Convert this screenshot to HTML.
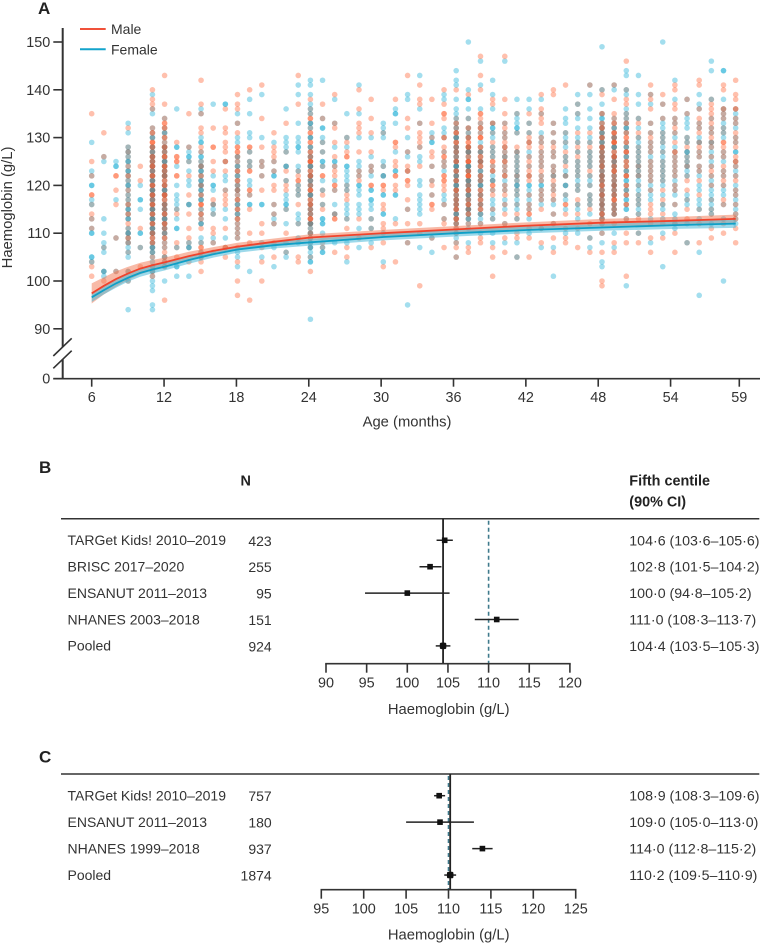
<!DOCTYPE html>
<html lang="en">
<head>
<meta charset="utf-8">
<title>Haemoglobin by age and fifth centile forest plots</title>
<style>
html,body{margin:0;padding:0;background:#fff;}
body{width:762px;height:943px;overflow:hidden;}
svg{display:block;}
text{font-family:"Liberation Sans",sans-serif;font-size:14px;fill:#333;}
.ttl{font-size:14.8px;}
.val{font-size:14.2px;}
.hdr{font-size:14.4px;font-weight:bold;fill:#222;}
.letter{font-size:17px;font-weight:bold;fill:#222;}
.tick{font-size:14.4px;}
</style>
</head>
<body>
<svg id="fig" xmlns="http://www.w3.org/2000/svg" width="762" height="943" viewBox="0 0 762 943">
  <text class="letter" x="38" y="14">A</text>
  <text class="ttl" x="0" y="0" transform="translate(12,207.5) rotate(-90)" text-anchor="middle">Haemoglobin (g/L)</text>
  <text class="ttl" x="407" y="426.5" text-anchor="middle">Age (months)</text>
  <g id="dots"></g>
  <g id="curves"></g>
  <g id="axesA"></g>
  <g>
    <line x1="80" y1="29" x2="105.7" y2="29" stroke="#f0513a" stroke-width="2"/>
    <text x="111" y="34">Male</text>
    <line x1="80" y1="49.3" x2="105.7" y2="49.3" stroke="#13a4cc" stroke-width="2"/>
    <text x="111" y="54.5">Female</text>
  </g>

  <text class="letter" x="39" y="473">B</text>
  <text class="hdr" x="240.5" y="485.7">N</text>
  <text class="hdr" x="629.3" y="485.7">Fifth centile</text>
  <text class="hdr" x="629.3" y="506.7">(90% CI)</text>
  <line x1="61" y1="518.7" x2="759.3" y2="518.7" stroke="#333" stroke-width="1.5"/>
  <g id="forestB"></g>
  <text class="ttl" x="448.7" y="714" text-anchor="middle">Haemoglobin (g/L)</text>

  <text class="letter" x="39" y="762.7">C</text>
  <line x1="61" y1="774" x2="759.3" y2="774" stroke="#333" stroke-width="1.5"/>
  <g id="forestC"></g>
  <text class="ttl" x="448.7" y="939.3" text-anchor="middle">Haemoglobin (g/L)</text>
</svg>
<script>
const months = [6,7,8,9,10,11,12,13,14,15,16,17,18,19,20,21,22,23,24,25,26,27,28,29,30,31,32,33,34,35,36,37,38,39,40,41,42,43,44,45,46,47,48,49,50,51,52,53,54,55,56,57,58,59];
const maleValues = [
[135,125,122,118,118,116,114,113,111,104,103,101],
[131,126,107,102,100],
[122,122,119,116,109,102],
[132,128,126,125,123,122,121,120,118,117,116,115,114,113,111,110,110,109,108,108,106,102,100],
[124,121,111,107,103],
[140,138,137,136,132,130,129,129,128,127,127,126,126,125,125,124,124,123,123,122,122,121,120,120,119,119,118,118,117,117,116,116,115,115,114,113,112,111,110,110,109,108,107,106,105,103,102,101],
[143,137,134,133,133,132,131,128,128,127,126,125,124,124,123,123,122,122,121,120,119,118,118,118,117,116,115,114,113,112,111,110,110,109,108,107,106,105,104,103,96],
[129,126,126,125,125,122,122,115,114,108,107,105],
[135,128,125,122,118,116,114,111,109,108,107,104],
[142,137,135,132,131,128,125,124,123,122,121,120,119,118,117,116,116,115,114,112,111,108,107,107,106,105,104,102],
[132,128,128,125,123,117,116,114,111,110,108,106],
[136,132,131,129,128,127,125,125,123,119,118,117,116,111,107,107,105],
[139,137,136,133,131,128,128,127,126,126,124,123,122,121,120,119,118,117,116,115,114,113,112,111,110,109,107,104,100,97],
[140,128,128,127,125,124,123,123,119,119,118,115,110,108,96],
[141,134,128,125,124,122,119,112,110,107,104,100],
[131,128,127,126,125,123,120,119,116,114,112,108,105],
[133,127,124,123,121,120,119,115,110,106],
[143,137,123,122,121,121,120,119,118,116,112,105,104],
[138,136,135,134,133,132,131,130,129,128,127,126,125,125,124,123,122,121,120,119,118,117,116,115,114,113,112,111,110,109,108,107,105,102],
[137,134,129,127,124,122,122,119,118,116,115,108,107],
[139,133,132,129,126,124,123,122,120,120,119,114,113,113,106],
[130,129,127,126,126,120,119,118,117,113,111,105,107],
[140,136,133,132,131,127,123,122,121,113,109],
[138,134,131,127,124,123,120,120,113,111,107],
[131,124,122,120,120,119,116,115,112,111,108,103],
[138,129,129,128,125,124,122,122,120,119,112,104],
[143,134,132,127,124,123,123,121,121,120,117,115,112,108],
[141,138,137,133,131,130,129,128,124,112,110,99],
[138,133,130,127,126,124,121,120,118,116,116,115,109],
[140,137,135,135,134,130,130,128,127,126,126,125,124,122,122,121,121,120,119,116,113,112,107],
[140,134,133,132,132,131,130,129,128,128,127,126,125,125,124,123,122,122,121,120,119,119,118,117,116,116,115,114,113,112,111,110,108,107,105],
[139,134,132,131,130,130,129,128,128,127,127,126,125,125,124,123,123,122,122,121,121,120,119,118,117,116,115,114,113,112,107,106],
[147,143,140,135,135,134,133,132,132,131,130,130,128,127,127,126,125,125,124,123,122,121,120,119,118,117,117,116,115,114,112,109,108],
[138,137,133,133,131,129,128,127,126,125,125,124,123,123,121,120,120,119,118,115,113,107,105,101],
[147,138,135,133,132,131,130,129,128,128,127,126,125,125,124,123,122,122,120,119,118,116,114,112,109,106],
[135,131,128,127,127,126,125,124,123,122,122,121,120,119,118,116,114,113,110,109,105],
[135,133,131,130,129,129,128,126,125,124,123,122,122,121,118,116,115,114,114,111,109,105],
[139,136,135,134,133,130,129,128,127,126,125,124,123,122,121,119,118,117,115,111,108],
[140,139,133,131,129,128,127,126,124,123,122,121,120,119,118,117,114,112,109,106],
[141,131,129,127,126,125,124,122,122,120,118,116,116,114,111,109,108],
[137,135,131,129,128,127,126,125,124,123,122,120,119,117,116,114,111,107],
[141,131,129,128,127,126,125,124,123,122,120,118,117,116,115,112,109,106],
[140,139,135,133,132,131,130,129,128,128,127,127,126,125,125,124,123,122,122,121,121,120,119,118,118,117,116,115,114,113,112,110,106,100,99],
[141,138,135,134,133,132,131,131,130,129,129,128,127,126,126,125,125,124,124,123,122,121,120,119,118,118,117,116,115,114,112,108,106],
[146,140,138,137,135,134,133,132,131,130,130,129,128,127,127,126,125,124,123,122,122,120,119,118,116,113,110,108,101],
[134,133,131,130,128,127,126,125,124,124,123,122,122,120,118,117,116,114,113,110,108],
[141,139,138,136,133,131,130,129,128,127,125,124,123,122,121,119,116,115,114,112,109,106],
[139,137,134,131,130,129,127,125,124,123,122,121,119,117,116,114,112,109],
[141,140,137,136,134,133,132,131,129,127,127,126,125,124,123,122,120,119,116,112,110,106],
[138,135,130,129,128,127,126,125,124,124,122,121,119,117,115,113,108],
[142,141,136,134,133,132,131,129,128,127,126,124,123,121,118,115,112,108],
[138,137,136,135,134,133,132,131,130,129,128,126,124,123,122,120,117,115,114,111,109],
[141,140,136,136,135,134,132,131,129,129,128,127,126,124,123,122,121,120,117,116,112,110],
[142,139,138,136,136,134,133,131,130,129,128,126,125,125,124,122,121,119,118,116,114,113,111,108]
];
const femaleValues = [
[129,123,122,120,120,117,116,113,111,110,110,105,105,104],
[126,125,113,110,108,107,106,102,102,101],
[125,124,124,117,109,102],
[133,131,128,127,127,125,125,124,123,122,121,120,119,117,116,115,114,113,111,110,109,108,107,106,105,102,100,94],
[120,117,117,115,110,110,107],
[139,136,135,132,131,130,128,127,126,125,124,124,123,122,121,121,120,119,118,118,117,116,115,114,113,113,112,111,110,110,109,108,108,107,107,106,105,104,103,102,102,101,100,99,98,95,94],
[134,132,131,130,128,127,126,126,125,124,123,122,121,120,119,118,117,116,115,115,114,113,112,111,110,109,108,107,105,105,104,103,100],
[136,128,128,124,120,118,117,116,115,113,111,111,107,103,103,101],
[128,127,126,126,125,123,121,120,116,116,108,107,107,101],
[136,135,130,129,129,127,126,125,124,124,123,122,121,120,120,119,118,117,114,113,112,109,108,106,105],
[137,122,120,120,119,116,116,115,114,109,108],
[137,137,125,122,121,119,115,113,109,107],
[135,133,130,129,125,124,123,122,121,120,120,119,118,117,116,115,114,113,112,111,110,109,106,105,103],
[138,135,131,130,127,125,124,121,120,118,116,116,102],
[139,130,125,124,122,116,116,108,105],
[129,125,123,122,122,116,114,113,112,107,103],
[136,130,129,128,127,124,124,121,118,117,116,116,115,112,108,106,105],
[141,139,133,130,129,128,128,127,124,123,120,119,118,114,113,112,109,108],
[142,141,139,137,136,135,133,132,130,128,127,126,125,124,123,122,122,121,120,119,118,117,116,115,114,113,112,112,111,110,109,108,107,107,106,105,104,104,92],
[142,134,132,132,130,129,127,125,125,124,121,119,116,113,113,112,112,110,107,106,106],
[138,133,128,125,125,124,121,119,116,114,114,108],
[135,130,128,124,124,123,122,121,120,119,116,115,114,113,108,104],
[141,135,130,125,124,123,122,120,120,119,118,116,115,114,111,107],
[130,126,124,123,122,119,119,117,117,116,115,113,111,108],
[133,132,131,130,125,124,122,122,118,118,114,114,110,104],
[136,135,135,133,127,123,123,118,118,113],
[139,138,130,127,126,123,115,108,95],
[143,136,133,128,126,125,121,120,118,117,116,115,114,107],
[131,130,129,129,124,121,118,109,106],
[139,138,132,131,130,127,125,124,123,118,117,116,113],
[144,142,141,138,136,135,134,133,131,130,129,128,127,126,125,124,124,123,122,121,120,119,118,117,116,115,114,113,112,111,110,109,108,105],
[150,140,138,138,136,134,132,130,128,127,127,125,124,124,123,122,121,120,120,119,118,118,117,116,115,115,114,114,113,112,111,108],
[146,141,136,133,132,131,128,127,126,125,125,124,123,122,122,121,120,120,119,118,117,116,115,114,113,112,110],
[142,139,136,133,132,132,131,130,128,127,126,124,123,122,121,121,119,117,116,115,114,113,110,108],
[146,133,131,130,128,127,126,126,125,124,123,122,121,120,119,117,116,115,112,108],
[138,135,134,133,132,132,131,127,126,125,124,123,122,121,120,120,119,118,117,116,115,113,108,105],
[138,136,133,131,129,127,126,124,122,120,120,119,118,117,116,115,113,110],
[138,135,131,130,129,127,126,125,124,122,121,120,120,119,118,117,116,111,107],
[133,131,129,127,126,124,123,122,122,120,119,117,116,114,112,107,101],
[136,134,133,131,130,129,128,126,125,123,122,120,120,118,117,115,110],
[139,137,135,134,132,130,129,127,125,124,123,122,121,120,119,116,115,113,110],
[141,139,136,134,132,130,129,127,126,125,124,122,121,120,118,117,116,114,109,107],
[149,140,137,135,134,133,132,131,130,129,128,127,126,126,125,124,124,123,122,122,121,120,119,118,117,116,115,114,113,112,110,108,104,103],
[141,140,134,133,132,131,130,130,129,128,127,126,126,125,124,123,123,122,121,120,120,119,118,117,116,115,114,110,107],
[144,143,140,139,136,135,134,133,132,131,129,128,127,126,125,124,123,122,121,120,119,118,117,116,115,113,99],
[143,139,137,134,132,130,129,128,127,126,125,124,123,122,121,120,119,118,117,116,115,114,110],
[139,137,133,131,129,128,127,126,125,124,123,122,121,120,119,118,117,113,108],
[150,137,134,133,132,131,130,129,128,127,126,125,124,123,122,121,120,118,116,115,113,110,103],
[142,138,134,133,131,130,128,127,126,125,124,123,122,121,120,119,118,116,114,113,112,111],
[138,135,134,133,132,130,129,127,127,126,125,124,123,122,118,117,116,112,108],
[139,137,136,133,132,130,129,129,127,126,124,123,122,120,119,117,116,115,113,106,97],
[146,144,138,134,132,131,129,129,128,127,126,125,124,122,121,120,119,118,117,116,115,114,112],
[144,144,138,136,135,134,133,132,131,130,127,126,125,123,122,120,119,118,116,113,100],
[136,135,134,133,132,130,129,127,127,125,124,123,122,120,119,118,117,116,115,114,113,112]
];
const crowdedMonths = [9,11,12,15,18,24,36,37,38,48,49,50];
const crowdedMale = [
[127,124,122,119,116,114,112,109],
[131,129,128,126,125,124,123,122,121,120,119,118,117,116,115,114,113,112,111,109,108,131,128,126,124,122,120,118,116,114,112,110],
[132,130,129,128,127,126,125,124,123,122,121,120,119,118,117,116,115,114,113,112,111,109,130,128,126,124,122,120,118,116,114,112],
[127,124,122,120,118,116,114,113],
[127,125,123,121,119,117,115,113],
[134,131,129,127,126,125,124,123,122,121,120,119,118,117,116,115,114,113,112,110,125,122,119,116,113],
[133,131,130,129,128,127,126,125,124,123,122,121,120,119,118,117,116,115,114,113,112,131,129,127,125,123,121,119,117,115,113],
[132,130,129,128,127,126,125,124,123,122,121,120,119,118,117,116,115,114,128,125,122,119,116],
[130,128,126,125,124,122,121,119,118,116,115],
[135,133,132,131,130,129,128,127,126,125,124,123,122,121,120,119,118,117,116,115,114,113,132,130,128,126,124,122,120,118,116,114],
[133,131,130,129,128,127,126,125,124,123,122,121,120,119,118,117,116,115,114,129,126,123,120,117],
[133,131,129,127,125,124,122,120,118,116]
];
const crowdedFemale = [
[126,123,120,118,115,113,110],
[130,127,125,124,122,120,119,118,116,115,114,113,112,111,110,106,128,126,123,121,119,117,115,113,111,107],
[131,129,127,125,124,123,122,120,119,118,116,115,114,113,112,111,110,128,125,122,119,116,113],
[126,123,121,119,117,115,112],
[126,124,122,119,116,114],
[133,130,128,126,124,122,120,118,116,114,112,110,124,121,118,115,112],
[132,130,128,126,125,124,123,121,120,119,118,116,115,114,113,112,130,127,124,122,120,117,114],
[131,128,126,124,123,121,120,119,117,116,115,113,127,124,121,118,115],
[129,127,125,123,121,120,118,116,114],
[134,132,130,128,127,125,124,123,121,120,119,117,116,115,114,131,129,126,122,118,116,113],
[132,130,128,126,124,122,121,119,118,116,114,128,125,120,115],
[132,128,126,123,121,119,117,115]
];
const curveMonths = [6,7,8,9,10,11,12,14,16,18,21,24,30,36,42,48,54,59];
const maleCurve = [97.4,99,100.4,101.6,102.6,103.3,103.9,105.2,106.3,107.2,108.2,109.1,110,110.8,111.6,112.2,112.6,113];
const femaleCurve = [96.6,98.1,99.5,100.7,101.7,102.4,103,104.4,105.6,106.6,107.5,108.1,109.2,110,110.7,111.2,111.7,112];
const maleHalfWidth = [2.1,1.8,1.6,1.4,1.2,1.1,1,0.9,0.8,0.8,0.7,0.7,0.7,0.7,0.7,0.8,0.8,0.9];
const femaleHalfWidth = [1,0.9,0.9,0.8,0.8,0.8,0.8,0.8,0.7,0.7,0.7,0.7,0.7,0.7,0.7,0.7,0.8,0.9];
const yTicks = [0,90,100,110,120,130,140,150];
const xTicks = [6,12,18,24,30,36,42,48,54,59];

const bStudies = ["TARGet Kids! 2010–2019","BRISC 2017–2020","ENSANUT 2011–2013","NHANES 2003–2018","Pooled"];
const bCounts = ["423","255","95","151","924"];
const bEstimates = [104.6,102.8,100,111,104.4];
const bLower = [103.6,101.5,94.8,108.3,103.5];
const bUpper = [105.6,104.2,105.2,113.7,105.3];
const bTicks = [90,95,100,105,110,115,120];

const cStudies = ["TARGet Kids! 2010–2019","ENSANUT 2011–2013","NHANES 1999–2018","Pooled"];
const cCounts = ["757","180","937","1874"];
const cEstimates = [108.9,109,114,110.2];
const cLower = [108.3,105,112.8,109.5];
const cUpper = [109.6,113,115.2,110.9];
const cTicks = [95,100,105,110,115,120,125];

const NS = 'http://www.w3.org/2000/svg';
function mk(tag, parent, attrs){
  const el = document.createElementNS(NS, tag);
  for (const k in attrs) el.setAttribute(k, attrs[k]);
  parent.appendChild(el);
  return el;
}
function fmt(v){ return v.toFixed(1).replace('.', '·'); }
function yA(v){ return v <= 0 ? 378.7 : 281 - (v - 100) * 4.78; }
function xPoint(m){ return 91.7 + (m - 6) * 12.15; }
function xTick(m){ return m <= 54 ? 91.7 + (m - 6) * 12.06 : 670.7 + (m - 54) * 13.72; }

const dotsG = document.getElementById('dots');
function dot(m, v, sex){
  const c = mk('circle', dotsG, {cx:xPoint(m), cy:yA(v), r:2.8, fill: sex === 'm' ? '#ff5a28' : '#00a3d0', 'fill-opacity': sex === 'm' ? .38 : .36});
  
  
}
function column(m, a, b){
  const n = Math.max(a.length, b.length);
  for (let j = 0; j < n; j++){
    if (j < b.length) dot(m, b[j], 'f');
    if (j < a.length) dot(m, a[j], 'm');
  }
}
months.forEach(function(m, i){
  column(m, maleValues[i] || [], femaleValues[i] || []);
});
crowdedMonths.forEach(function(m, i){
  column(m, crowdedMale[i] || [], crowdedFemale[i] || []);
});

const curvesG = document.getElementById('curves');
function curvePath(vals){
  return curveMonths.map(function(m, i){
    return xPoint(m).toFixed(1) + ',' + yA(vals[i]).toFixed(1);
  }).join(' ');
}
function band(vals, hw){
  const up = curveMonths.map(function(m, i){ return xPoint(m).toFixed(1) + ',' + yA(vals[i] + hw[i]).toFixed(1); });
  const lo = curveMonths.map(function(m, i){ return xPoint(m).toFixed(1) + ',' + yA(vals[i] - hw[i]).toFixed(1); }).reverse();
  return up.concat(lo).join(' ');
}
const bandM = mk('polygon', curvesG, {points:band(maleCurve, maleHalfWidth), fill:'#f2764f', 'fill-opacity':.5});


const bandF = mk('polygon', curvesG, {points:band(femaleCurve, femaleHalfWidth), fill:'#4dbad8', 'fill-opacity':.55});


const lineF = mk('polyline', curvesG, {points:curvePath(femaleCurve), fill:'none', stroke:'#0f9fc6', 'stroke-width':1.8});


const lineM = mk('polyline', curvesG, {points:curvePath(maleCurve), fill:'none', stroke:'#f0432c', 'stroke-width':1.8});



const axA = document.getElementById('axesA');
const stroke = {stroke:'#333', 'stroke-width':1.6, fill:'none'};
const yUpper = mk('line', axA, Object.assign({x1:62.7, y1:28, x2:62.7, y2:347}, stroke, {'stroke-width':2}));


const yLower = mk('line', axA, Object.assign({x1:62.7, y1:359.5, x2:62.7, y2:378.7}, stroke, {'stroke-width':2}));


const brk1 = mk('line', axA, Object.assign({x1:53.3, y1:356, x2:71.7, y2:338.3}, stroke));


const brk2 = mk('line', axA, Object.assign({x1:53.3, y1:368.3, x2:71.7, y2:350.7}, stroke));


const xLine = mk('line', axA, Object.assign({x1:53.3, y1:378.7, x2:760, y2:378.7}, stroke));


yTicks.forEach(function(v){
  const t = mk('line', axA, Object.assign({x1:53.3, x2:62.7, y1:yA(v), y2:yA(v)}, stroke));
  
  
  const l = mk('text', axA, {x:50.3, y:yA(v) + 5, 'text-anchor':'end', 'class':'tick'});
  
  
  l.textContent = v;
});
xTicks.forEach(function(m){
  const t = mk('line', axA, Object.assign({x1:xTick(m), x2:xTick(m), y1:378.7, y2:386.7}, stroke));
  
  
  const l = mk('text', axA, {x:xTick(m), y:402, 'text-anchor':'middle', 'class':'tick'});
  
  
  l.textContent = m;
});

function forest(opts){
  const g = document.getElementById(opts.id);
  const X = function(v){ return opts.x0 + (v - opts.v0) * opts.k; };
  const dash = mk('line', g, {x1:X(110), x2:X(110), y1:opts.top + 2, y2:opts.axisY, stroke:'#3f7a8c', 'stroke-width':1.6, 'stroke-dasharray':'4 3'});
  
  
  const last = opts.est[opts.est.length - 1];
  const pooled = mk('line', g, {x1:X(last), x2:X(last), y1:opts.top, y2:opts.axisY, stroke:'#222', 'stroke-width':1.8});
  
  
  const axis = mk('line', g, {x1:X(opts.ticks[0]) - .8, x2:X(opts.ticks[opts.ticks.length - 1]) + .8, y1:opts.axisY, y2:opts.axisY, stroke:'#333', 'stroke-width':1.6});
  
  
  opts.ticks.forEach(function(v){
    const t = mk('line', g, {x1:X(v), x2:X(v), y1:opts.axisY, y2:opts.axisY + 9, stroke:'#333', 'stroke-width':1.6});
    
    
    const l = mk('text', g, {x:X(v), y:opts.axisY + 23.6, 'text-anchor':'middle', 'class':'tick'});
    
    
    l.textContent = v;
  });
  opts.studies.forEach(function(s, i){
    const cy = opts.rowY + i * opts.rowGap;
    const name = mk('text', g, {x:67.5, y:cy + 4.8});
    
    
    name.textContent = s;
    const n = mk('text', g, {x:271.7, y:cy + 5.5, 'text-anchor':'end'});
    
    
    n.textContent = opts.counts[i];
    const ci = mk('line', g, {x1:X(opts.lo[i]), x2:X(opts.hi[i]), y1:cy, y2:cy, stroke:'#222', 'stroke-width':1.5});
    
    
    const isPool = i === opts.studies.length - 1;
    const sz = isPool ? 6.5 : 5.6;
    const box = mk('rect', g, {x:X(opts.est[i]) - sz / 2, y:cy - sz / 2, width:sz, height:sz, fill:'#111', rx:isPool ? 1.6 : 0});
    
    
    const val = mk('text', g, {x:629.3, y:cy + 5, 'class':'val'});
    
    
    val.textContent = fmt(opts.est[i]) + ' (' + fmt(opts.lo[i]) + '–' + fmt(opts.hi[i]) + ')';
  });
}
forest({id:'forestB', studies:bStudies, counts:bCounts, est:bEstimates, lo:bLower, hi:bUpper, ticks:bTicks, x0:326, v0:90, k:8.13, top:518.7, axisY:663.7, rowY:540.3, rowGap:26.4});
forest({id:'forestC', studies:cStudies, counts:cCounts, est:cEstimates, lo:cLower, hi:cUpper, ticks:cTicks, x0:321.3, v0:95, k:8.48, top:774, axisY:889.7, rowY:795.7, rowGap:26.45});
</script>
</body>
</html>
